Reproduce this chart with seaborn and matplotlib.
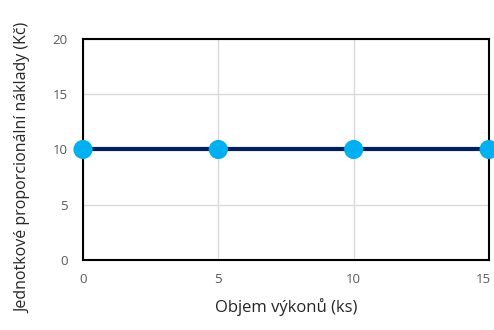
import matplotlib
matplotlib.use("Agg")
import matplotlib.pyplot as plt
import matplotlib.transforms as mtransforms
import seaborn as sns
import pandas as pd

# Objem výkonů a jednotkové proporcionální náklady
objem = [0, 5, 10, 15]
naklady = [10, 10, 10, 10]
x_ticks = [0, 5, 10, 15]
y_ticks = [0, 5, 10, 15, 20]

df = pd.DataFrame({"objem": objem, "naklady": naklady})

sns.set_theme(style="white")
plt.rcParams["font.family"] = ["Open Sans", "DejaVu Sans"]

fig = plt.figure(figsize=(4.94, 3.30), dpi=100)
ax = fig.add_axes([0.168, 0.212, 0.822, 0.670])

ax.grid(True, color="#d9d9d9", linewidth=1.0, zorder=0)
sns.lineplot(data=df, x="objem", y="naklady", ax=ax, color="#002060",
             linewidth=3, zorder=3, clip_on=False)
sns.scatterplot(data=df, x="objem", y="naklady", ax=ax, color="#00b0f0",
                s=190, edgecolor="none", zorder=4, clip_on=False)

ax.set_xlim(0, 15)
ax.set_ylim(0, 20)
ax.set_xticks(x_ticks)
ax.set_yticks(y_ticks)
ax.tick_params(axis="both", length=0, labelsize=9.5, labelcolor="#595959")
ax.tick_params(axis="x", pad=9)
ax.tick_params(axis="y", pad=11)

# keep the last x tick label inside the figure edge
fig.canvas.draw()
last = ax.get_xticklabels()[-1]
last.set_transform(last.get_transform() +
                   mtransforms.ScaledTranslation(-4 / 72, 0, fig.dpi_scale_trans))

for sp in ax.spines.values():
    sp.set_visible(True)
    sp.set_color("black")
    sp.set_linewidth(1.5)

ax.set_xlabel("Objem výkonů (ks)", fontsize=12, color="#262626", labelpad=9)
ax.set_ylabel("Jednotkové proporcionální náklady (Kč)", fontsize=11.5,
              color="#262626")
ax.yaxis.set_label_coords(-0.128, 0.415)

fig.savefig("out.png", dpi=100)
